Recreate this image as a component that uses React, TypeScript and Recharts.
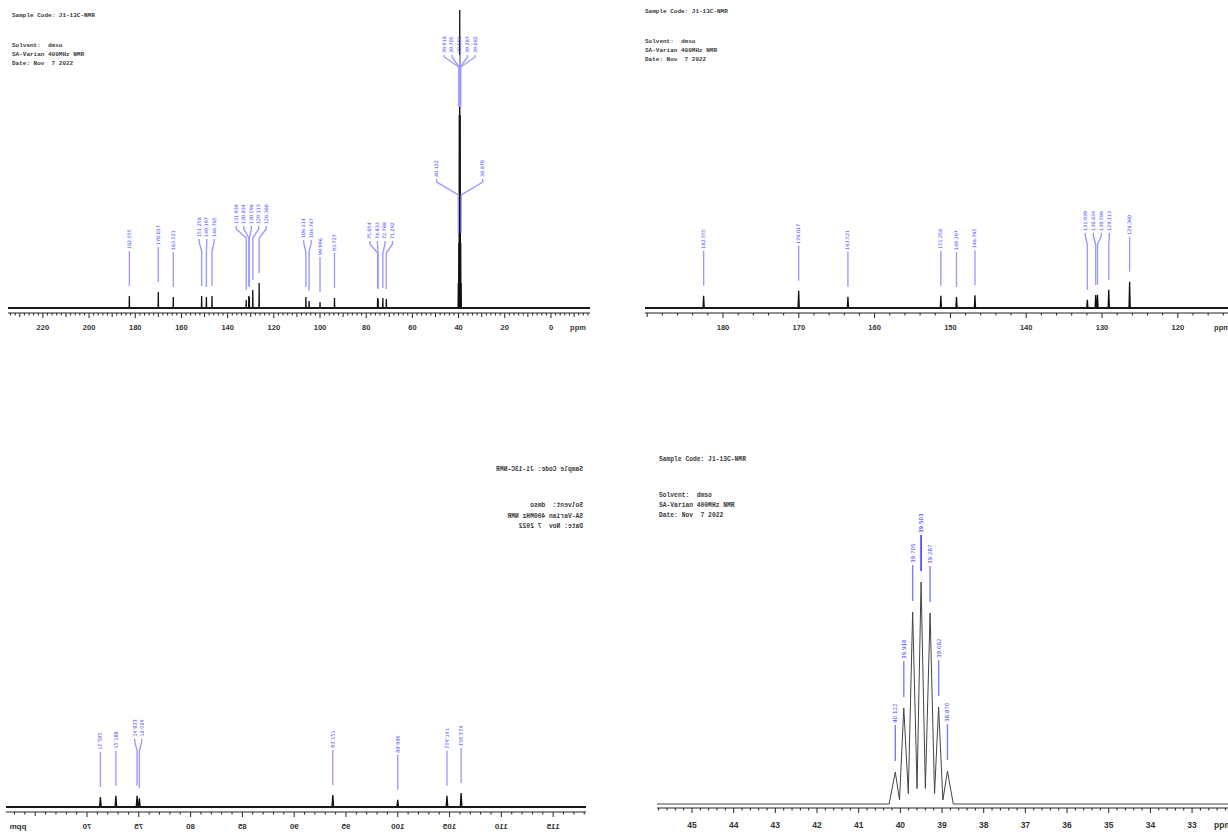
import React from "react";
import { ComposedChart, Line, Scatter, XAxis, YAxis, ReferenceLine } from "recharts";

// ---- data ----
const HEADER_LINES = ["Sample Code: J1-13C-NMR", "Solvent:  dmso", "SA-Varian 400MHz NMR", "Date: Nov  7 2022"];

// full spectrum (top left)
const TL_PEAK_PPM = [182.555, 170.017, 163.521, 151.258, 149.197, 146.765, 131.939, 130.834, 130.596, 129.113, 126.36, 106.114, 104.747, 99.996, 93.727, 75.054, 74.833, 72.788, 71.292];
const TL_PEAK_INT = [12, 16, 11, 12, 11, 12, 8, 12, 11, 18, 25, 11, 7, 6, 10, 10, 9, 10, 9];
const TL_DMSO_PPM = [40.122, 39.918, 39.705, 39.503, 39.287, 39.082, 38.87];
const TL_DMSO_INT = [25, 65, 193, 298, 193, 65, 25];
const TL_DMSO_TOP = [39.918, 39.705, 39.503, 39.287, 39.082];
const TL_DMSO_SIDE = [40.122, 38.87];
const TL_TICK_LABELS = [220, 200, 180, 160, 140, 120, 100, 80, 60, 40, 20, 0];

// aromatic region (top right)
const TR_PEAK_PPM = [182.555, 170.017, 163.521, 151.258, 149.197, 146.765, 131.939, 130.834, 130.596, 129.113, 126.36];
const TR_PEAK_INT = [12.3, 17.3, 11.3, 12.3, 11, 12.7, 8.3, 13, 13.3, 18.3, 26.3];
const TR_TICK_LABELS = [180, 170, 160, 150, 140, 130, 120];

// 65-118 ppm region (bottom left, printed mirrored)
const BL_PEAK_PPM = [106.114, 104.747, 99.996, 93.727, 75.054, 74.833, 72.788, 71.292];
const BL_PEAK_INT = [14, 11.3, 7.3, 12, 8.7, 11.3, 11.3, 10];
const BL_TICK_LABELS = [70, 75, 80, 85, 90, 95, 100, 105, 110, 115];

// DMSO septet (bottom right)
const BR_PEAK_PPM = [40.122, 39.918, 39.705, 39.503, 39.287, 39.082, 38.87];
const BR_PEAK_INT = [32, 96, 192, 222, 191, 97, 33];
const BR_VALLEY_PPM = [40.27, 40.02, 39.81, 39.6, 39.4, 39.18, 38.98, 38.73];
const BR_VALLEY_INT = [0, 4, 10.5, 15.5, 15.5, 10.5, 4, 0];
const BR_TICK_LABELS = [45, 44, 43, 42, 41, 40, 39, 38, 37, 36, 35, 34, 33];

// ---- helpers ----
type Pt = { x: number; y: number };
type Fixed = { textBottom: number; kneeTop: number; kneeBottom: number; lineEnd: number };
type LabelPt = Pt & { text: string; dx: number; clustered: boolean; rise: number; fixed?: Fixed; strong?: boolean };

const LABEL_FONT = "'DejaVu Sans', 'Liberation Sans', sans-serif";
const AXIS_FONT = "'Liberation Sans', Arial, sans-serif";

const range = (a: number, b: number, step: number) => {
  const out: number[] = [];
  for (let i = 0; a + i * step <= b + 1e-9; i++) out.push(Math.round((a + i * step) * 1000) / 1000);
  return out;
};

// peaks drawn as narrow spikes: foot - top - foot
function buildTrace(ppm: number[], int: number[], foot: number, domain: number[]): Pt[] {
  const pts: Pt[] = [{ x: domain[0], y: 0 }, { x: domain[1], y: 0 }];
  ppm.forEach((p, i) => pts.push({ x: p - foot, y: 0 }, { x: p, y: int[i] }, { x: p + foot, y: 0 }));
  return pts.sort((a, b) => a.x - b.x);
}

function mergeTrace(ppm: number[], int: number[], domain: number[]): Pt[] {
  const pts: Pt[] = [{ x: domain[0], y: 0 }, { x: domain[1], y: 0 }];
  ppm.forEach((p, i) => pts.push({ x: p, y: int[i] }));
  return pts.sort((a, b) => a.x - b.x);
}

// spread crowded peak labels apart, the way the plotting software does
function spreadLabels(ppm: number[], int: number[], pxPerPpm: number, gap: number): LabelPt[] {
  const items = ppm.map((p, i) => ({ x: p, y: int[i], px: -p * pxPerPpm })).sort((a, b) => a.px - b.px);
  const clusters: { members: typeof items; start: number }[] = [];
  items.forEach((it) => {
    clusters.push({ members: [it], start: it.px });
    while (clusters.length > 1) {
      const b = clusters[clusters.length - 1];
      const a = clusters[clusters.length - 2];
      if (a.start + a.members.length * gap <= b.start) break;
      const members = a.members.concat(b.members);
      const mean = members.reduce((s, m) => s + m.px, 0) / members.length;
      clusters.splice(-2, 2, { members, start: mean - ((members.length - 1) * gap) / 2 });
    }
  });
  const out: LabelPt[] = [];
  clusters.forEach((c) => {
    const top = Math.max(...c.members.map((m) => m.y));
    c.members.forEach((m, i) =>
      out.push({ x: m.x, y: m.y, text: m.x.toFixed(3), dx: c.start + i * gap - m.px, clustered: c.members.length > 1, rise: top - m.y })
    );
  });
  return out;
}

function fixedLabels(ppm: number[], int: number[], pxPerPpm: number, spacing: number, fixed: Fixed): LabelPt[] {
  const items = ppm.map((p, i) => ({ x: p, y: int[i], px: -p * pxPerPpm })).sort((a, b) => a.px - b.px);
  const mean = items.reduce((s, m) => s + m.px, 0) / items.length;
  const start = mean - ((items.length - 1) * spacing) / 2;
  return items.map((m, i) => ({ x: m.x, y: m.y, text: m.x.toFixed(3), dx: start + i * spacing - m.px, clustered: true, rise: 0, fixed }));
}

type Geo = {
  width: number;
  height: number;
  margin: { top: number; right: number; bottom: number; left: number };
  axisHeight: number;
  xDomain: number[];
  yDomain: number[];
};
const pxPerPpm = (g: Geo) => (g.width - g.margin.left - g.margin.right) / (g.xDomain[1] - g.xDomain[0]);
const pxPerUnit = (g: Geo) => (g.height - g.margin.top - g.margin.bottom - g.axisHeight) / (g.yDomain[1] - g.yDomain[0]);

type LabelStyle = { rise: number; clusterExtra: number; gap: number; font: number; text: string; line: string; strong: string };

const renderLabel = (st: LabelStyle, unit: number) => (props: any) => {
  const { cx, cy, payload } = props;
  const p = payload as LabelPt;
  const lx = cx + p.dx;
  let textBottom: number;
  let pts: number[][];
  if (p.fixed) {
    textBottom = p.fixed.textBottom;
    pts = [[lx, textBottom + 2], [lx, p.fixed.kneeTop], [cx, p.fixed.kneeBottom], [cx, p.fixed.lineEnd]];
  } else {
    const top = cy - p.rise * unit;
    textBottom = top - st.rise - (p.clustered ? st.clusterExtra : 0);
    const end = cy - st.gap;
    pts = p.clustered
      ? [[lx, textBottom + 2], [lx, textBottom + 5], [cx, textBottom + 14], [cx, end]]
      : [[cx, textBottom + 2], [cx, end]];
  }
  const line = p.strong ? st.strong : st.line;
  return (
    <g>
      <polyline points={pts.map((q) => q.join(",")).join(" ")} fill="none" stroke={line} strokeWidth={1.4} />
      <text
        x={lx}
        y={textBottom}
        transform={`rotate(-90 ${lx} ${textBottom})`}
        style={{ fontFamily: LABEL_FONT, fontSize: st.font }}
        fill={p.strong ? st.strong : st.text}
        dominantBaseline="central"
      >
        {p.text}
      </text>
    </g>
  );
};

type TickFont = { size: number; dy: number };
const makeTick = (labels: number[], longStep: number, font: TickFont) => (props: any) => {
  const { x, y, payload } = props;
  const v = payload.value as number;
  const isLabel = labels.some((l) => Math.abs(l - v) < 1e-6);
  const isLong = Math.abs(v / longStep - Math.round(v / longStep)) < 1e-6;
  const len = isLabel ? 5 : isLong ? 4 : 2.5;
  return (
    <g>
      <line x1={x} x2={x} y1={y} y2={y + len} stroke="#222" strokeWidth={1} />
      {isLabel && (
        <text x={x} y={y + font.dy} textAnchor="middle" style={{ fontFamily: AXIS_FONT, fontWeight: "bold", fontSize: font.size }} fill="#333">
          {v}
        </text>
      )}
    </g>
  );
};

type PanelProps = {
  left: number;
  top: number;
  mirrored?: boolean;
  geo: Geo;
  trace: Pt[];
  traceColor: string;
  traceWidth: number;
  band: number;
  labels: LabelPt[];
  labelStyle: LabelStyle;
  ticks: number[];
  tickLabels: number[];
  longStep: number;
  tickFont: TickFont;
  header: { x: number; ys: number[]; size: number };
};

function Panel(p: PanelProps) {
  const g = p.geo;
  const ppmLabel = (lp: any) => {
    const vb = lp.viewBox;
    return (
      <text x={vb.x + vb.width - 12} y={vb.y + p.tickFont.dy} textAnchor="middle" style={{ fontFamily: AXIS_FONT, fontWeight: "bold", fontSize: p.tickFont.size }} fill="#333">
        ppm
      </text>
    );
  };
  return (
    <div
      style={{
        position: "absolute",
        left: p.left,
        top: p.top,
        width: g.width,
        height: g.height,
        transform: p.mirrored ? "scaleX(-1)" : undefined,
      }}
    >
      {HEADER_LINES.map((t, i) => (
        <div
          key={t}
          style={{
            position: "absolute",
            left: p.header.x,
            top: p.header.ys[i] - 4,
            fontFamily: "'Liberation Mono', monospace",
            fontWeight: "bold",
            fontSize: p.header.size,
            lineHeight: "8px",
            color: "#3a3a3a",
            whiteSpace: "pre",
            zIndex: 2,
          }}
        >
          {t}
        </div>
      ))}
      <ComposedChart width={g.width} height={g.height} data={p.trace} margin={g.margin}>
        <XAxis
          type="number"
          dataKey="x"
          domain={g.xDomain}
          reversed
          allowDataOverflow
          ticks={p.ticks}
          interval={0}
          tick={makeTick(p.tickLabels, p.longStep, p.tickFont)}
          tickLine={false}
          tickSize={0}
          tickMargin={0}
          height={g.axisHeight}
          axisLine={{ stroke: "#222", strokeWidth: 1 }}
          label={ppmLabel}
        />
        <YAxis type="number" dataKey="y" domain={g.yDomain} allowDataOverflow hide />
        {p.band > 0 && <ReferenceLine y={0} stroke="#333" strokeWidth={p.band} />}
        <Line
          type="linear"
          dataKey="y"
          stroke={p.traceColor}
          strokeWidth={p.traceWidth}
          dot={false}
          activeDot={false}
          isAnimationActive={false}
        />
        <Scatter data={p.labels} dataKey="y" isAnimationActive={false} shape={renderLabel(p.labelStyle, pxPerUnit(g))} />
      </ComposedChart>
    </div>
  );
}

// ---- panel layouts ----
const TL_GEO: Geo = { width: 594, height: 340, margin: { top: 10, right: 4, bottom: 7, left: 8 }, axisHeight: 20, xDomain: [-16.9, 235.1], yDomain: [-5, 298] };
const TR_GEO: Geo = { width: 600, height: 340, margin: { top: 10, right: 6, bottom: 7, left: 5 }, axisHeight: 20, xDomain: [112.59, 190.29], yDomain: [-5, 298] };
const BL_GEO: Geo = { width: 594, height: 378, margin: { top: 10, right: 6, bottom: 4, left: 8 }, axisHeight: 16, xDomain: [62.18, 118.17], yDomain: [-5, 343] };
const BR_GEO: Geo = { width: 600, height: 387, margin: { top: 10, right: 5, bottom: 4, left: 17 }, axisHeight: 20, xDomain: [31.97, 45.84], yDomain: [-4, 349] };

const BASE_LABEL: LabelStyle = { rise: 47, clusterExtra: 12, gap: 10, font: 4.8, text: "#4646ff", line: "#9c9cff", strong: "#2020ff" };

const intOf = (ppm: number[], int: number[], p: number) => int[ppm.indexOf(p)];

export default function App() {
  const tlTrace = buildTrace(TL_PEAK_PPM.concat(TL_DMSO_PPM), TL_PEAK_INT.concat(TL_DMSO_INT), 0.08, TL_GEO.xDomain);
  const tlLabels = [
    ...spreadLabels(TL_PEAK_PPM, TL_PEAK_INT, pxPerPpm(TL_GEO), 7.5),
    ...fixedLabels(TL_DMSO_TOP, TL_DMSO_TOP.map((p) => intOf(TL_DMSO_PPM, TL_DMSO_INT, p)), pxPerPpm(TL_GEO), 7.75, {
      textBottom: 53,
      kneeTop: 57,
      kneeBottom: 67,
      lineEnd: 107,
    }),
    ...fixedLabels(TL_DMSO_SIDE, TL_DMSO_SIDE.map((p) => intOf(TL_DMSO_PPM, TL_DMSO_INT, p)), pxPerPpm(TL_GEO), 46, {
      textBottom: 177,
      kneeTop: 182,
      kneeBottom: 195,
      lineEnd: 233,
    }),
  ];

  const trTrace = buildTrace(TR_PEAK_PPM, TR_PEAK_INT, 0.08, TR_GEO.xDomain);
  const trLabels = spreadLabels(TR_PEAK_PPM, TR_PEAK_INT, pxPerPpm(TR_GEO), 8);

  const blTrace = buildTrace(BL_PEAK_PPM, BL_PEAK_INT, 0.08, BL_GEO.xDomain);
  const blLabels = spreadLabels(BL_PEAK_PPM, BL_PEAK_INT, pxPerPpm(BL_GEO), 7);

  const brTrace = mergeTrace(BR_PEAK_PPM.concat(BR_VALLEY_PPM), BR_PEAK_INT.concat(BR_VALLEY_INT), BR_GEO.xDomain);
  const brLabels = spreadLabels(BR_PEAK_PPM, BR_PEAK_INT, pxPerPpm(BR_GEO), 7).map((l) => ({ ...l, strong: l.x === 39.503 }));

  return (
    <div style={{ position: "absolute", left: 0, top: 0, width: 1228, height: 832, overflow: "hidden", background: "#fff" }}>
      <Panel
        left={0}
        top={0}
        geo={TL_GEO}
        trace={tlTrace}
        traceColor="#111"
        traceWidth={1.3}
        band={2.2}
        labels={tlLabels}
        labelStyle={BASE_LABEL}
        ticks={range(-16, 234, 2)}
        tickLabels={TL_TICK_LABELS}
        longStep={10}
        tickFont={{ size: 7.5, dy: 17 }}
        header={{ x: 12, ys: [16, 46, 55, 64], size: 6 }}
      />
      <Panel
        left={640}
        top={0}
        geo={TR_GEO}
        trace={trTrace}
        traceColor="#111"
        traceWidth={1.3}
        band={2.2}
        labels={trLabels}
        labelStyle={BASE_LABEL}
        ticks={range(114, 190, 2)}
        tickLabels={TR_TICK_LABELS}
        longStep={10}
        tickFont={{ size: 7.5, dy: 17 }}
        header={{ x: 5, ys: [12, 42, 51, 60], size: 6 }}
      />
      <Panel
        left={0}
        top={454}
        mirrored
        geo={BL_GEO}
        trace={blTrace}
        traceColor="#111"
        traceWidth={1.3}
        band={2.2}
        labels={blLabels}
        labelStyle={{ ...BASE_LABEL, font: 5 }}
        ticks={range(63, 118, 1)}
        tickLabels={BL_TICK_LABELS}
        longStep={5}
        tickFont={{ size: 8, dy: 17 }}
        header={{ x: 11, ys: [16, 52, 63, 73], size: 6.3 }}
      />
      <Panel
        left={640}
        top={445}
        geo={BR_GEO}
        trace={brTrace}
        traceColor="#444"
        traceWidth={1}
        band={0}
        labels={brLabels}
        labelStyle={{ ...BASE_LABEL, rise: 49, gap: 11, font: 5.6, text: "#4a4aff", line: "#7c7cff" }}
        ticks={range(32, 45.8, 0.2)}
        tickLabels={BR_TICK_LABELS}
        longStep={1}
        tickFont={{ size: 8.5, dy: 20 }}
        header={{ x: 19, ys: [15, 51, 61, 71], size: 6.3 }}
      />
    </div>
  );
}
